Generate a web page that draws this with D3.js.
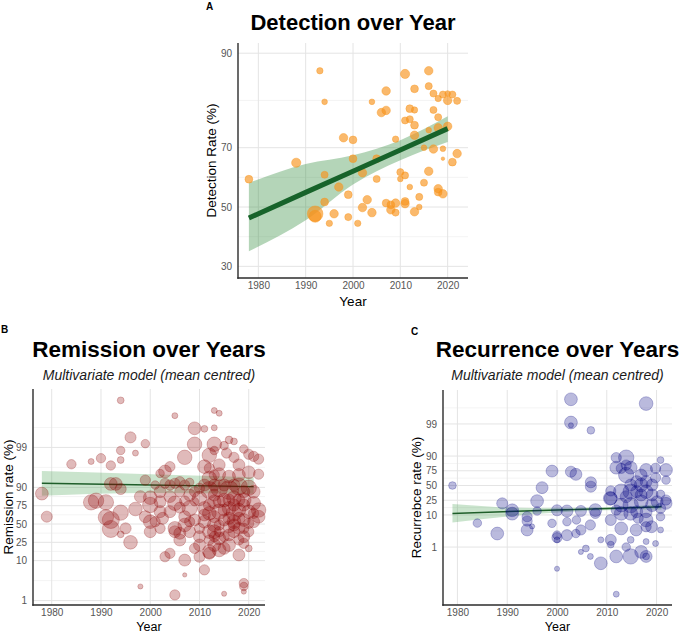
<!DOCTYPE html>
<html><head><meta charset="utf-8">
<script src="https://cdn.jsdelivr.net/npm/d3@7"></script>
<style>
body{margin:0;background:#fff}
svg{display:block}
text{font-family:"Liberation Sans",Arial,Helvetica,sans-serif}
</style>
</head><body>
<svg id="chart" width="680" height="634"></svg>
<script>
// ---------------- DATA ----------------
// Panel A: Detection rate (%) by publication year, bubble size ~ study weight
const yearsA = [1978,1988,1993,1994,1994,1994,1992,1992,1996,1995,1997,1998,2000,2000,1999,1999,2001,2002,2002,2003,2004,2004,2005,2005,2006,2007,2007,2007,2008,2008,2009,2009,2010,2010,2011,2011,2011,2011,2011,2012,2012,2012,2013,2013,2013,2013,2014,2014,2015,2015,2016,2016,2016,2017,2017,2017,2018,2018,2018,2018,2019,2019,2020,2020,2019,2019,2021,2022,2022,2021,2018,2020,2013,2009,2016];
const detA   = [59.8,65.3,87.5,81.8,61.3,51.8,47.6,46.7,47.6,44.2,57.1,72.9,72.3,66.6,54.4,46.4,44.2,62.0,49.8,52.6,81.8,48.0,66.6,59.9,79.4,79.9,84.0,51.4,50.8,49.0,72.5,51.4,62.2,59.9,87.0,61.1,52.0,51.2,77.5,80.3,57.1,77.8,84.4,76.3,73.6,48.3,53.6,50.0,70.0,58.6,87.5,84.9,62.5,83.5,80.0,69.6,78.3,75.6,56.5,55.3,54.7,83.3,82.1,76.0,66.6,69.7,83.3,82.0,68.2,65.5,82.5,83.5,80.0,48.0,75.0];
const sizeA  = [11,13,9,8,10,11,22,17,12,9,12,12,11,11,11,10,9,12,12,12,8,12,11,10,12,12,12,11,11,12,9,12,10,8,13,10,11,12,10,11,8,10,11,11,12,12,10,8,8,10,12,10,12,10,10,12,10,12,12,11,12,10,12,12,5,8,10,10,12,11,9,8,9,10,8];
const fitYearsA = [1978,1990,2000,2010,2020];
const fitA = [46.1,55.2,62.5,69.3,75.4];
const loA  = [34.7,45.3,58.0,66.1,71.7];
const hiA  = [58.5,64.9,67.7,72.2,78.5];
const ticksA = [30,50,70,90];

// Panel B: Remission rate (%)
const yearsB = [1994,1996,1994,1997,1992,1990,1988,1984,1994,1978,1979,1988,1989,1991,1992,1993,1994,1991,1992,1992,1994,1995,1994,1996,1997,1998,1999,2005,2013,2014,2009,2011,2013,2009,2013,2013,2007,2012,2015,2016,2017,2015.5,2017,2019,2020,2021,2022,2018,2014,2011,2004,2003,2002,1999,2005,2006,2008,2012,2014,2016,2018,2020,2022,2012,2014,2016,2018,2020,2021,1998,2000,2002,2004,2000,2002,2005,2007,2008,2010,2013,2015,2017,2019,2021,2022,1999,2002,2004,2006,2008,2007,2011,2012,2014,2016,2017,2018,2020,2022,2000,2002.5,2000,2002,2005,2007,2009,2011,2013,2015,2017,2019,2021,2005,2006,2008,2010,2012,2013,2014,2016,2017,2019,2020,2009,2010,2012,2014,2016,2018,2019,2020,2007,2003,2011,2007,2005,2015,2019,2019,2019,2012,2013,2015,2010,2004,2006,2001,2012,2013,2016,2017,2018,2019,2014,2015,2013,2016,2018,2017,2018,2016,2011,2014,2019,2017,2015,2013,2011,2013,2012,2010,2009,2007,2006,2004,2003,2001,2009,2008,2010,2012,2013,2014,2015,2018,2019,2020,2021];
const remB   = [99.94,99.45,98.8,98.6,97.1,98.1,97.7,97.3,97.9,86.1,60.8,78.6,80.2,78.6,91.7,91.7,89.1,59.9,56,42.6,66.4,43.5,35,25,71.1,2.3,99.2,99.85,99.89,99.87,99.68,99.67,99.69,99.17,99.17,98.8,98.2,98.4,99.1,99.36,99.3,98.6,98.2,98.9,98.5,98.3,98,97.2,97.2,96.9,96.9,95.9,95.4,93.3,92,92.7,92.4,93.9,95.2,94.5,95,95.7,95.2,88.5,89.5,88.5,90.4,89.8,87.4,83.8,82.9,87.4,83.8,75.8,79.2,77.6,79.9,85,82.3,79.2,80.8,82.3,80.8,77.6,69.8,60.8,67.7,67.7,72.7,71.9,60.8,71.9,65.5,67.7,71.9,65.5,69.8,67.7,60.8,53.5,58.4,38.7,43.5,43.5,48.5,56,53.5,48.5,56,53.5,56,53.5,38.7,27.7,38.7,31.9,38.7,38.7,29.7,34.1,38.7,31.9,38.7,18.8,22.1,16,17.4,22.1,13.5,23.9,18.8,10.3,12.3,6,4.5,1.4,1.5,2.8,2.3,1.7,14.7,22.1,18.8,12.3,14.7,36.4,53.5,75.8,85,80.8,75.8,80.8,75.8,79.2,69.8,60.8,58.4,58.4,48.5,43.5,46,63.2,48.5,87.4,91.2,91.2,91.2,91.2,95,96.6,89.5,87.4,91.2,87.4,91.2,92,91.2,79.2,53.5,43.5,27.7,31.9,38.7,31.9,27.7,43.5,51,65.5];
const sizeB  = [8,13,10,7,11,11,7,11,8,15,13,18,18,18,15,15,13,18,20,20,18,13,8,16,16,6,10,7,7,7,15,8,7,17,17,10,17,17,10,9,8,12,12,10,12,12,12,14,14,16,12,15,10,12,12,12,10,17,15,15,15,15,12,20,20,22,20,18,15,14,16,14,14,18,14,17,12,14,17,16,16,17,17,16,17,14,14,14,13,18,14,16,16,18,16,18,16,16,15,16,14,14,12,16,16,14,15,16,14,16,15,14,14,14,14,14,16,16,15,14,14,14,12,12,14,16,16,15,14,12,8,14,12,12,5,12,6,11,10,6,14,15,14,13,12,14,12,14,14,14,14,14,14,14,14,14,14,14,14,14,14,14,12,14,14,14,14,14,12,12,12,12,12,12,12,12,10,10,12,12,12,12,12,12,12,12,12,12,12];
const fitYearsB = [1978,2000,2021];
const fitB = [92.0,91.2,90.4];
const loB  = [84.5,86.5,86.0];
const hiB  = [96.0,95.2,94.3];
const ticksBC = [1,10,25,50,75,90,99];

// Panel C: Recurrence rate (%)
const yearsC = [1979,1984,1988,1989,1991,1991,1994,1994,1994,1995,1996,1996,1997,1999,1999,2000,2000,2000,2000,2002.8,2002.8,2002.8,2006.8,2017.9,2002.8,2003.8,2006.8,2006.8,2002,2004.8,2007.7,2007.7,2003.9,2002,2002,2000,2006.7,2004.8,2003.8,2005.8,2006.7,2008.8,2008.8,2004.8,2010.7,2010.8,2010.8,2010.8,2011.9,2011.9,2011.9,2013.9,2011.9,2013.9,2014.8,2017.9,2019.8,2020.8,2021.9,2016.9,2012.9,2014.8,2016.9,2017.9,2019.1,2020.8,2010.8,2012.9,2014.8,2016.9,2019.1,2021.9,2012.9,2014.8,2017.9,2012.9,2015.9,2019,2020.8,2020.8,2014.8,2017.9,2019.8,2013.9,2014.8,2016.9,2017.9,2017.9,2016,2017.9,2013.9,2016,2016.9,2016,2017.9,2019.8,2019.1,2020.1,2020.8,2021.9,2011.9,2010.8,2013.9,2012.9,2016.3,2017.9,2021.9,2014.8];
const recC   = [50,5.7,2.7,20.9,13.6,10.9,8.9,6.6,3.5,4.5,23.8,13,46,74.6,5.6,13.6,2.4,1.7,0.2,99.84,99.1,98.9,98.4,99.78,73.7,69.7,56,47.8,13,13,13.8,11.1,7.1,6.3,2.4,2,5,3.5,2.7,0.9,0.5,0.3,1.7,0.7,27.7,7.1,1.7,1.2,0.5,0.03,88.9,88.9,79.1,68.6,79.1,76.1,64.2,87,76.1,68.6,38.7,38.7,51,38.7,51,34.1,27.7,18.8,18.8,23,18.8,20.9,11.1,11.1,7.1,3.9,3.5,4.4,8.9,3.5,1.7,1.5,1.3,1,0.5,0.7,0.5,0.5,12.4,12.4,30.3,38.7,33,57.2,57.2,78.3,33,23,15.4,25.3,13.8,40,82.2,78.3,8,4.4,60,51];
const sizeC  = [9,10,15,13,15,15,12,12,14,6,15,10,14,14,10,13,10,7,6,15,15,6,9,16,13,14,13,13,14,13,15,12,10,10,13,12,12,12,10,8,7,15,7,6,16,13,13,8,15,7,12,18,15,18,15,15,12,8,15,14,18,18,16,16,14,10,15,16,18,16,15,14,16,16,16,15,14,14,10,7,8,7,7,10,18,15,14,8,14,14,14,14,14,14,14,12,14,14,12,12,12,12,12,12,12,12,10,14];
const fitYearsC = [1979,1995,2012,2021];
const fitC = [11.1,13.1,15.6,17.0];
const loC  = [5.9,10.5,13.9,14.2];
const hiC  = [20.1,15.8,16.8,20.0];

const xTicks = [1980,1990,2000,2010,2020];

// ---------------- DRAWING ----------------
const svg = d3.select("#chart");
const logit = p => Math.log(p / (100 - p));
const FONT = '"Liberation Sans",Arial,Helvetica,sans-serif';

function panel(c) {
  const g = svg.append("g");
  const x = d3.scaleLinear().domain(c.xDom).range([c.left, c.right]);
  const yl = d3.scaleLinear().domain(c.yDom).range([c.bottom, c.top]);
  const y = v => yl(logit(v));
  const r = d3.scaleLinear().domain([0, 22]).range([0, c.rMax]);

  // minor y grid (midpoints between majors in logit space)
  const tl = c.yTicks.map(logit);
  const minors = [];
  for (let i = 0; i < tl.length - 1; i++) minors.push((tl[i] + tl[i+1]) / 2);
  if (c.extraMinor) minors.push(tl[tl.length-1] + (tl[tl.length-1]-tl[tl.length-2])/2);
  g.selectAll(".ymin").data(minors.filter(v => v > c.yDom[0] && v < c.yDom[1])).join("line")
    .attr("x1", c.left).attr("x2", c.right).attr("y1", d => yl(d)).attr("y2", d => yl(d))
    .attr("stroke", "#ededed").attr("stroke-width", 0.6);
  g.selectAll(".ymaj").data(tl).join("line")
    .attr("x1", c.left).attr("x2", c.right).attr("y1", d => yl(d)).attr("y2", d => yl(d))
    .attr("stroke", "#e4e4e4").attr("stroke-width", 1);
  g.selectAll(".xmaj").data(xTicks).join("line")
    .attr("x1", d => x(d)).attr("x2", d => x(d)).attr("y1", c.top).attr("y2", c.bottom)
    .attr("stroke", "#e4e4e4").attr("stroke-width", 1);

  // axes (labels only)
  const ay = g.append("g").attr("transform", `translate(${c.left},0)`)
    .call(d3.axisLeft(yl).tickValues(tl).tickFormat((d, i) => c.yTicks[i]).tickSize(0).tickPadding(6));
  const ax = g.append("g").attr("transform", `translate(0,${c.bottom})`)
    .call(d3.axisBottom(x).tickValues(xTicks).tickFormat(d3.format("d")).tickSize(0).tickPadding(4));
  [ay, ax].forEach(a => {
    a.select(".domain").remove();
    a.selectAll("text").attr("fill", "#555555").style("fill", "#555555")
      .style("font-size", "10px").style("font-family", FONT);
  });

  // confidence band + fit
  const fd = c.fitYears.map((yr, i) => ({yr, f: c.fit[i], lo: c.lo[i], hi: c.hi[i]}));
  g.append("path").datum(fd)
    .attr("d", d3.area().x(d => x(d.yr)).y0(d => y(d.lo)).y1(d => y(d.hi)).curve(d3.curveMonotoneX))
    .attr("fill", c.bandColor).attr("fill-opacity", c.bandOp);

  // points
  const pts = c.years.map((yr, i) => ({yr, v: c.vals[i], s: c.sizes[i]}));
  const drawPts = () => g.append("g").selectAll("circle").data(pts).join("circle")
    .attr("cx", d => x(d.yr)).attr("cy", d => y(d.v)).attr("r", d => r(d.s))
    .attr("fill", c.color).attr("fill-opacity", c.fillOp)
    .attr("stroke", c.color).attr("stroke-opacity", c.strokeOp).attr("stroke-width", 0.7);
  if (c.pointsFirst) drawPts();
  g.append("path").datum(fd)
    .attr("d", d3.line().x(d => x(d.yr)).y(d => y(d.f)))
    .attr("fill", "none").attr("stroke", c.lineColor).attr("stroke-width", c.lineW);
  if (!c.pointsFirst) drawPts();

  // axis lines
  g.append("line").attr("x1", c.left).attr("x2", c.left).attr("y1", c.top).attr("y2", c.bottom + 0.7)
    .attr("stroke", "#2b2b2b").attr("stroke-width", 1.4);
  g.append("line").attr("x1", c.left - 0.7).attr("x2", c.right).attr("y1", c.bottom).attr("y2", c.bottom)
    .attr("stroke", "#2b2b2b").attr("stroke-width", 1.4);

  // texts
  g.append("text").attr("x", c.tagX).attr("y", c.tagY).text(c.tag)
    .style("font-size", "10px").style("font-weight", "bold");
  g.append("text").attr("x", (c.left + c.right) / 2).attr("y", c.titleY).attr("text-anchor", "middle")
    .text(c.title).style("font-size", c.titleSize + "px").style("font-weight", "bold");
  if (c.subtitle) g.append("text").attr("x", (c.left + c.right) / 2).attr("y", c.subY).attr("text-anchor", "middle")
    .text(c.subtitle).style("font-size", "14px").style("font-style", "italic").attr("fill", "#1a1a1a");
  g.append("text").attr("x", (c.left + c.right) / 2).attr("y", c.xlabY).attr("text-anchor", "middle")
    .text("Year").style("font-size", c.xlabSize + "px");
  g.append("text").attr("transform", `translate(${c.ylabX},${(c.top + c.bottom) / 2}) rotate(-90)`)
    .attr("text-anchor", "middle").text(c.ylab).style("font-size", "13.5px");
}

panel({
  left: 238, right: 468, top: 43, bottom: 278,
  xDom: [1975.7, 2024.3], yDom: [-1.014, 2.343], yTicks: ticksA,
  years: yearsA, vals: detA, sizes: sizeA, rMax: 7.8,
  color: "#F7941D", fillOp: 0.65, strokeOp: 0.6, pointsFirst: true,
  fitYears: fitYearsA, fit: fitA, lo: loA, hi: hiA,
  bandColor: "#2e8b3a", bandOp: 0.36, lineColor: "#17632a", lineW: 5,
  tag: "A", tagX: 206, tagY: 10, title: "Detection over Year", titleSize: 22, titleY: 30,
  ylab: "Detection Rate (%)", ylabX: 216, xlabY: 306, xlabSize: 13.5
});
panel({
  left: 33, right: 265, top: 389, bottom: 605,
  xDom: [1976.2, 2023.3], yDom: [-4.86, 8.10], yTicks: ticksBC, extraMinor: true,
  years: yearsB, vals: remB, sizes: sizeB, rMax: 9.4,
  color: "#8B0000", fillOp: 0.27, strokeOp: 0.35, pointsFirst: false,
  fitYears: fitYearsB, fit: fitB, lo: loB, hi: hiB,
  bandColor: "#3f9e4a", bandOp: 0.28, lineColor: "#1f5e2a", lineW: 1.5,
  tag: "B", tagX: 1, tagY: 333, title: "Remission over Years", titleSize: 22.5, titleY: 357,
  subtitle: "Multivariate model (mean centred)", subY: 380,
  ylab: "Remission rate (%)", ylabX: 13, xlabY: 631, xlabSize: 12.5
});
panel({
  left: 443, right: 672, top: 390, bottom: 605,
  xDom: [1977.1, 2023.1], yDom: [-8.92, 7.13], yTicks: ticksBC, extraMinor: true,
  years: yearsC, vals: recC, sizes: sizeC, rMax: 9.4,
  color: "#000080", fillOp: 0.27, strokeOp: 0.35, pointsFirst: false,
  fitYears: fitYearsC, fit: fitC, lo: loC, hi: hiC,
  bandColor: "#3f9e4a", bandOp: 0.28, lineColor: "#1f5e2a", lineW: 1.5,
  tag: "C", tagX: 411, tagY: 335, title: "Recurrence over Years", titleSize: 22.5, titleY: 357,
  subtitle: "Multivariate model (mean centred)", subY: 380,
  ylab: "Recurrebce rate (%)", ylabX: 420.5, xlabY: 631, xlabSize: 12.5
});
</script>
</body></html>
